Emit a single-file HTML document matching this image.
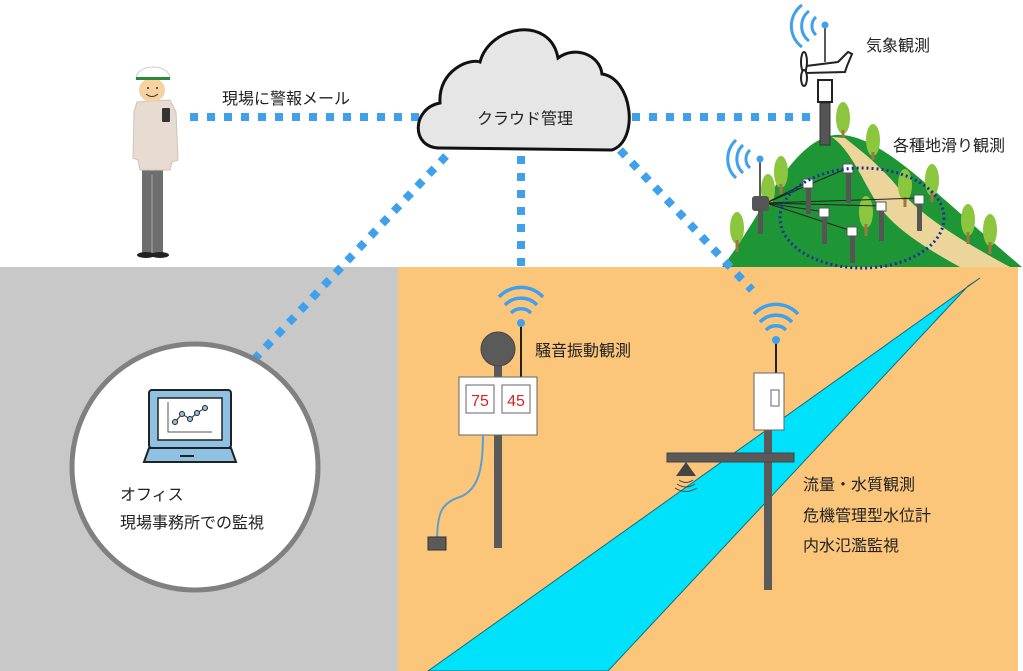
<!DOCTYPE html>
<html><head><meta charset="utf-8"><style>
html,body{margin:0;padding:0;background:#fff;}
svg{display:block;font-family:"Liberation Sans","Noto Sans CJK JP",sans-serif;}
</style></head><body>
<svg width="1023" height="671" viewBox="0 0 1023 671" xmlns="http://www.w3.org/2000/svg">
<rect width="1023" height="671" fill="#fff"/>
<rect x="0" y="267" width="398" height="404" fill="#c8c8c8"/>
<rect x="398" y="267" width="620" height="404" fill="#fbc67a"/>
<!-- river -->
<polygon points="428,671 608,671 968,286 980,278" fill="#00e1fb" stroke="#1a6b78" stroke-width="1"/>
<!-- hill -->
<path d="M722,267 C760,220 790,140 835,135 C880,132 930,190 1022,267 Z" fill="#1e9636"/>
<path d="M832,137 C850,150 860,175 875,200 C890,225 920,245 960,267 L1010,267 C960,240 920,215 900,190 C880,165 860,150 845,138 Z" fill="#ecd59a"/>
<g fill="#8cc63f">
<ellipse cx="843" cy="118" rx="7" ry="16"/><ellipse cx="873" cy="140" rx="7" ry="16"/>
<ellipse cx="781" cy="172" rx="7" ry="16"/><ellipse cx="768" cy="190" rx="7" ry="16"/>
<ellipse cx="905" cy="185" rx="7" ry="16"/><ellipse cx="932" cy="180" rx="7" ry="16"/>
<ellipse cx="866" cy="212" rx="7" ry="16"/><ellipse cx="737" cy="228" rx="7" ry="16"/>
<ellipse cx="968" cy="220" rx="7" ry="16"/><ellipse cx="990" cy="230" rx="7" ry="16"/>
</g>
<g stroke="#a0783c" stroke-width="3">
<line x1="843" y1="130" x2="843" y2="138"/><line x1="873" y1="152" x2="873" y2="160"/>
<line x1="781" y1="184" x2="781" y2="194"/><line x1="905" y1="197" x2="905" y2="207"/>
<line x1="932" y1="192" x2="932" y2="202"/><line x1="866" y1="224" x2="866" y2="236"/>
<line x1="737" y1="240" x2="737" y2="252"/><line x1="968" y1="232" x2="968" y2="244"/>
<line x1="990" y1="242" x2="990" y2="254"/>
</g>
<!-- landslide sensors -->
<g stroke="#222" stroke-width="1">
<line x1="766" y1="203" x2="808" y2="182"/><line x1="766" y1="203" x2="848" y2="168"/>
<line x1="766" y1="203" x2="880" y2="206"/><line x1="766" y1="203" x2="825" y2="212"/>
<line x1="766" y1="203" x2="920" y2="198"/><line x1="766" y1="203" x2="852" y2="231"/>
</g>
<g fill="#555">
<rect x="806" y="182" width="5" height="32"/><rect x="846" y="168" width="5" height="35"/>
<rect x="822" y="212" width="5" height="32"/><rect x="879" y="206" width="5" height="35"/>
<rect x="917" y="198" width="5" height="33"/><rect x="850" y="231" width="5" height="32"/>
<rect x="758" y="206" width="5" height="28"/>
</g>
<g fill="#fff" stroke="#555" stroke-width="1">
<rect x="803" y="179" width="10" height="9"/><rect x="843" y="164" width="10" height="9"/>
<rect x="819" y="208" width="10" height="9"/><rect x="876" y="202" width="10" height="9"/>
<rect x="914" y="195" width="10" height="9"/><rect x="847" y="227" width="10" height="9"/>
</g>
<rect x="752" y="196" width="17" height="15" rx="3" fill="#555"/>
<line x1="760" y1="160" x2="760" y2="196" stroke="#222" stroke-width="1.5"/>
<circle cx="760" cy="159" r="3.5" fill="#3fa0ec"/>
<g fill="none" stroke="#3fa0ec" stroke-width="3">
<path d="M750,150 A12,12 0 0 0 750,168"/><path d="M743,145 A19,19 0 0 0 743,173"/><path d="M736,140 A26,26 0 0 0 736,178"/>
</g>
<ellipse cx="862" cy="218" rx="82" ry="50" fill="none" stroke="#1a2f9c" stroke-width="3" stroke-dasharray="2,3"/>
<!-- weather station -->
<rect x="820" y="103" width="10" height="42" fill="#555" stroke="#333"/>
<rect x="818" y="80" width="14" height="22" fill="#fff" stroke="#222" stroke-width="2"/>
<path d="M806,66 L838,62 L848,52 L852,54 L847,66 L845,72 L806,73 Z" fill="#fff" stroke="#222" stroke-width="2"/>
<ellipse cx="804" cy="62" rx="3" ry="10" fill="#fff" stroke="#222" stroke-width="2"/>
<ellipse cx="804" cy="78" rx="3" ry="8" fill="#fff" stroke="#222" stroke-width="2"/>
<line x1="825" y1="25" x2="825" y2="62" stroke="#222" stroke-width="1.5"/>
<circle cx="825" cy="25" r="3.5" fill="#3fa0ec"/>
<g fill="none" stroke="#3fa0ec" stroke-width="3">
<path d="M816,17 A12,12 0 0 0 816,35"/><path d="M809,11 A19,19 0 0 0 809,41"/><path d="M802,5 A26,26 0 0 0 802,47"/>
</g>
<text x="866" y="51" font-size="16" fill="#222">気象観測</text>
<text x="893" y="151" font-size="16" fill="#222">各種地滑り観測</text>
<!-- dotted connectors -->
<g stroke="#3fa0ec" stroke-width="8" stroke-dasharray="8,9" fill="none">
<line x1="190" y1="117" x2="425" y2="117"/>
<line x1="632" y1="117" x2="816" y2="117"/>
<line x1="521" y1="156" x2="521" y2="270"/>
<line x1="446" y1="156" x2="232" y2="383"/>
<line x1="620" y1="150" x2="752" y2="290"/>
</g>
<!-- cloud -->
<path d="M440,148 C410,148 412,108 440,103 C438,70 470,58 480,62 C490,25 550,15 558,58 C575,45 600,55 602,74 C632,78 640,140 612,150 Z" fill="#e6e6e6" stroke="#111" stroke-width="3"/>
<text x="525" y="124" font-size="16" fill="#222" text-anchor="middle">クラウド管理</text>
<text x="222" y="104" font-size="16" fill="#222">現場に警報メール</text>
<!-- person -->
<rect x="142" y="165" width="21" height="88" fill="#6e6e6e"/>
<line x1="152" y1="175" x2="152" y2="253" stroke="#aaa" stroke-width="1"/>
<ellipse cx="146" cy="255" rx="9" ry="3" fill="#222"/><ellipse cx="160" cy="255" rx="9" ry="3" fill="#222"/>
<path d="M137,102 L170,100 L176,112 L178,160 L172,162 L170,170 L140,170 L138,160 L133,158 L134,112 Z" fill="#e8dcd2" stroke="#cfc2b6"/>
<rect x="162" y="108" width="8" height="14" rx="1" fill="#333"/>
<ellipse cx="152" cy="90" rx="13" ry="12" fill="#f6d1a2"/>
<path d="M136,79 C136,63 170,63 170,79 Z" fill="#fff" stroke="#ccc"/>
<rect x="136" y="77" width="34" height="3" fill="#2a8a3a"/>
<path d="M146,94 Q152,99 158,94" fill="none" stroke="#333" stroke-width="1"/>
<circle cx="148" cy="88" r="1" fill="#333"/><circle cx="157" cy="88" r="1" fill="#333"/>
<!-- office circle -->
<circle cx="195" cy="467" r="123" fill="#fff" stroke="#808080" stroke-width="5"/>
<rect x="149" y="390" width="82" height="58" rx="3" fill="#8fc1e3" stroke="#222" stroke-width="2"/>
<rect x="158" y="398" width="64" height="42" fill="#fff" stroke="#222" stroke-width="1.5"/>
<polyline points="168,402 168,432 212,432" fill="none" stroke="#555" stroke-width="1"/>
<polyline points="175,422 182,414 190,419 197,413 205,408" fill="none" stroke="#222" stroke-width="1"/>
<g fill="#8fc1e3" stroke="#222" stroke-width="1"><circle cx="175" cy="422" r="2.5"/><circle cx="182" cy="414" r="2.5"/><circle cx="190" cy="419" r="2.5"/><circle cx="197" cy="413" r="2.5"/><circle cx="205" cy="408" r="2.5"/></g>
<path d="M149,448 L231,448 L236,462 L144,462 Z" fill="#8fc1e3" stroke="#222" stroke-width="2"/>
<rect x="180" y="455" width="14" height="2" fill="#222"/>
<text x="120" y="500" font-size="16" fill="#222">オフィス</text>
<text x="120" y="528" font-size="16" fill="#222">現場事務所での監視</text>
<!-- noise sensor -->
<line x1="521" y1="323" x2="521" y2="378" stroke="#222" stroke-width="2"/>
<circle cx="521" cy="323" r="4" fill="#3fa0ec"/>
<g fill="none" stroke="#3fa0ec" stroke-width="3.5">
<path d="M511,313 A14,14 0 0 1 531,313"/><path d="M505,305 A22,22 0 0 1 537,305"/><path d="M499,297 A30,30 0 0 1 543,297"/>
</g>
<rect x="494" y="360" width="8" height="188" fill="#5a5a5a"/>
<circle cx="498" cy="349" r="17" fill="#5a5a5a" stroke="#444"/>
<rect x="459" y="377" width="78" height="58" fill="#fff" stroke="#666"/>
<rect x="466" y="385" width="28" height="28" fill="#fff" stroke="#666"/>
<rect x="502" y="385" width="28" height="28" fill="#fff" stroke="#666"/>
<text x="480" y="406" font-size="16" fill="#d22" text-anchor="middle">75</text>
<text x="516" y="406" font-size="16" fill="#d22" text-anchor="middle">45</text>
<path d="M483,435 C483,470 478,490 460,497 C440,503 438,515 437,538" fill="none" stroke="#5a9fd0" stroke-width="2"/>
<rect x="428" y="537" width="18" height="13" fill="#5a5a5a" stroke="#333"/>
<text x="535" y="356" font-size="16" fill="#222">騒音振動観測</text>
<!-- water sensor -->
<line x1="776" y1="340" x2="776" y2="373" stroke="#222" stroke-width="2"/>
<circle cx="776" cy="340" r="4" fill="#3fa0ec"/>
<g fill="none" stroke="#3fa0ec" stroke-width="3.5">
<path d="M766,330 A14,14 0 0 1 786,330"/><path d="M760,322 A22,22 0 0 1 792,322"/><path d="M754,314 A30,30 0 0 1 798,314"/>
</g>
<rect x="764" y="430" width="8" height="160" fill="#5a5a5a"/>
<rect x="754" y="373" width="30" height="57" fill="#fff" stroke="#666"/>
<rect x="771" y="390" width="8" height="16" fill="#fff" stroke="#666"/>
<rect x="667" y="453" width="127" height="9" fill="#5a5a5a" stroke="#444"/>
<polygon points="686,462 676,476 696,476" fill="#444"/>
<g fill="none" stroke="#444" stroke-width="1"><path d="M679,480 Q686,485 693,480"/><path d="M677,484 Q686,490 695,484"/><path d="M675,488 Q686,495 697,488"/></g>
<text x="803" y="490" font-size="16" fill="#222">流量・水質観測</text>
<text x="803" y="521" font-size="16" fill="#222">危機管理型水位計</text>
<text x="803" y="551" font-size="16" fill="#222">内水氾濫監視</text>
</svg>
</body></html>
